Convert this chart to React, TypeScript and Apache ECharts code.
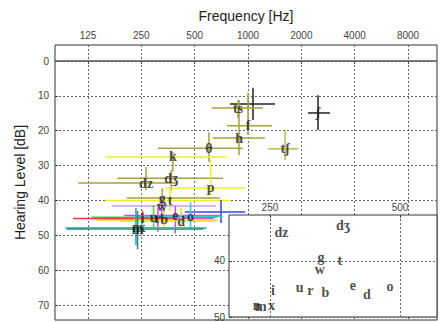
import React, { useEffect, useRef } from "react";
import * as echarts from "echarts";

// Speech sounds: label, centre frequency (Hz), level (dB HL), frequency range, level range
const labels = ["ʃ", "", "ts", "f", "h", "θ", "tʃ", "k", "dʒ", "dz", "p", "g", "t", "w", "", "u", "r", "b", "e", "d", "o", "i", "n", "m", "x"];
const freqs = [2484, 1067, 878, 1000, 890, 602, 1618, 377, 369, 266, 615, 328, 363, 326, 704, 293, 310, 336, 389, 419, 474, 254, 233, 238, 252];
const levels = [14.9, 12.3, 13.5, 18.6, 22.1, 25.0, 25.2, 27.5, 33.6, 35.0, 36.4, 39.3, 40.0, 41.6, 43.3, 44.8, 45.2, 45.6, 44.3, 45.9, 44.6, 45.2, 47.9, 48.2, 47.9];
const freqLow = [2181, 792, 626, 761, 632, 310, 1300, 157, 183, 110, 341, 207, 156, 170, 440, 131, 150, 140, 200, 190, 230, 103, 93, 95, 120];
const freqHigh = [2904, 1421, 1216, 1366, 1245, 934, 1922, 763, 723, 395, 962, 694, 791, 660, 963, 670, 640, 680, 700, 660, 720, 380, 585, 560, 520];
const levelLow = [9.8, 7.7, 11.2, 9.2, 11.2, 20.4, 19.8, 26.1, 31.3, 30.4, 28.4, 36.5, 37.0, 39.0, 39.9, 41.3, 42.0, 42.5, 41.5, 42.0, 40.5, 43.0, 42.2, 43.0, 45.0];
const levelHigh = [19.8, 16.9, 16.4, 21.2, 27.0, 29.0, 28.4, 31.8, 37.0, 37.0, 38.4, 42.0, 43.0, 45.0, 46.5, 47.9, 49.0, 48.5, 49.5, 48.0, 48.5, 46.0, 52.8, 54.0, 50.0];

const freqTicks = [125, 250, 500, 1000, 2000, 4000, 8000];
const levelTicks = [0, 10, 20, 30, 40, 50, 60, 70];
const insetFreqTicks = [250, 500];
const insetLevelTicks = [40, 50];

// styles (bar colours per sound)
const hBarColors = ["#222", "#222", "#a3a33a", "#a3a33a", "#a3a33a", "#a3a33a", "#b0c040", "#eeee22", "#a3a33a", "#a3a33a", "#eeee22", "#a3a33a", "#eeee22", "#c8a0e8", "#3344ee", "#33dd33", "#e040e0", "#e8e020", "#e040e0", "#e8e020", "#33cccc", "#ff3040", "#40a0a0", "#208888", "#60b090"];
const vBarColors = ["#222", "#222", "#a3a33a", "#a3a33a", "#a3a33a", "#a3a33a", "#b0c040", "#a3a33a", "#a3a33a", "#a3a33a", "#eeee22", "#a3a33a", "#eeee22", "#c060e0", "#3344ee", "#33dd33", "#e040e0", "#e8e020", "#e040e0", "#e8e020", "#33cccc", "#ff3040", "#40a0a0", "#208888", "#60b090"];

const lg = (f: number) => Math.log2(f);
const fmtHz = (v: number) => String(Math.round(Math.pow(2, v)));
const gridLine = { show: true, lineStyle: { type: [2, 2] as any, color: "#666", width: 1 } };
const labelFont = { fontFamily: "Liberation Serif", fontWeight: "bold" as const, fontSize: 14, color: "#1a1a1a" };

export default function App() {
  const ref = useRef<HTMLDivElement>(null);
  useEffect(() => {
    if (!ref.current) return;
    const chart = echarts.init(ref.current, null, { renderer: "svg" });
    const barData = freqs.map((f, i) => [lg(f), levels[i], lg(freqLow[i]), lg(freqHigh[i]), levelLow[i], levelHigh[i]]);
    const pointData = freqs.map((f, i) => ({ value: [lg(f), levels[i]], name: labels[i] }));
    const tickLogs = freqTicks.map(lg);
    const insetLogs = insetFreqTicks.map(lg);
    chart.setOption({
      animation: false,
      textStyle: { fontFamily: "Liberation Sans" },
      grid: [
        { left: 55, top: 45, right: 4, bottom: 2, show: true, borderColor: "#333", borderWidth: 1, backgroundColor: "#fff" },
        { left: 229, top: 215, right: 4, bottom: 5, show: true, borderColor: "#333", borderWidth: 1, backgroundColor: "#fff", z: 10 },
      ],
      xAxis: [
        {
          gridIndex: 0, type: "value", position: "top", min: lg(81.4), max: lg(11660),
          axisLine: { show: false },
          axisTick: { show: true, inside: true, length: 3, customValues: tickLogs, lineStyle: { color: "#444" } },
          axisLabel: { customValues: tickLogs, formatter: fmtHz, color: "#444", fontSize: 10, margin: 5 },
          splitLine: gridLine,
          name: "Frequency [Hz]", nameLocation: "middle", nameGap: 22,
          nameTextStyle: { fontSize: 14, color: "#222" },
        },
        {
          gridIndex: 1, type: "value", position: "top", min: lg(201), max: lg(609), z: 11,
          axisLine: { show: false },
          axisTick: { show: true, inside: true, length: 3, customValues: insetLogs, lineStyle: { color: "#444" } },
          axisLabel: { customValues: insetLogs, formatter: fmtHz, color: "#444", fontSize: 10, margin: 3 },
          splitLine: gridLine,
        },
      ],
      yAxis: [
        {
          gridIndex: 0, type: "value", inverse: true, min: -4.6, max: 74.3,
          axisLine: { show: false },
          axisTick: { show: true, inside: true, length: 3, customValues: levelTicks, lineStyle: { color: "#444" } },
          axisLabel: { customValues: levelTicks, color: "#444", fontSize: 10, margin: 6 },
          splitLine: gridLine,
          name: "Hearing Level [dB]", nameLocation: "middle", nameGap: 26, nameRotate: 90,
          nameTextStyle: { fontSize: 14, color: "#222" },
        },
        {
          gridIndex: 1, type: "value", inverse: true, min: 31.8, max: 50, z: 11,
          axisLine: { show: false },
          axisTick: { show: true, inside: true, length: 3, customValues: insetLevelTicks, lineStyle: { color: "#444" } },
          axisLabel: { customValues: insetLevelTicks, color: "#444", fontSize: 10, margin: 4 },
          splitLine: gridLine,
        },
      ],
      series: [
        {
          type: "custom", xAxisIndex: 0, yAxisIndex: 0, z: 2,
          data: barData,
          renderItem: (params: any, api: any) => {
            const i = params.dataIndex;
            const x = api.value(0), y = api.value(1);
            const a = api.coord([api.value(2), y]);
            const b = api.coord([api.value(3), y]);
            const c = api.coord([x, api.value(4)]);
            const d = api.coord([x, api.value(5)]);
            return {
              type: "group",
              children: [
                { type: "line", shape: { x1: a[0], y1: a[1], x2: b[0], y2: b[1] }, style: { stroke: hBarColors[i], lineWidth: 1.5 } },
                { type: "line", shape: { x1: c[0], y1: c[1], x2: d[0], y2: d[1] }, style: { stroke: vBarColors[i], lineWidth: 1.5 } },
              ],
            };
          },
        },
        {
          type: "scatter", xAxisIndex: 0, yAxisIndex: 0, z: 3,
          data: pointData, symbolSize: 1, itemStyle: { color: "rgba(0,0,0,0)" },
          label: { show: true, position: "inside", formatter: (p: any) => p.name, ...labelFont },
          markLine: {
            silent: true, symbol: ["none", "none"], label: { show: false },
            lineStyle: { color: "#555", type: "solid", width: 1.5 },
            data: [{ yAxis: 0 }],
          },
        },
        {
          type: "scatter", xAxisIndex: 1, yAxisIndex: 1, z: 12, clip: true,
          data: pointData, symbolSize: 1, itemStyle: { color: "rgba(0,0,0,0)" },
          label: { show: true, position: "inside", formatter: (p: any) => p.name, ...labelFont },
        },
      ],
    });
    return () => chart.dispose();
  }, []);
  return <div ref={ref} style={{ position: "fixed", left: 0, top: 0, width: 441, height: 322, background: "#fff" }} />;
}
